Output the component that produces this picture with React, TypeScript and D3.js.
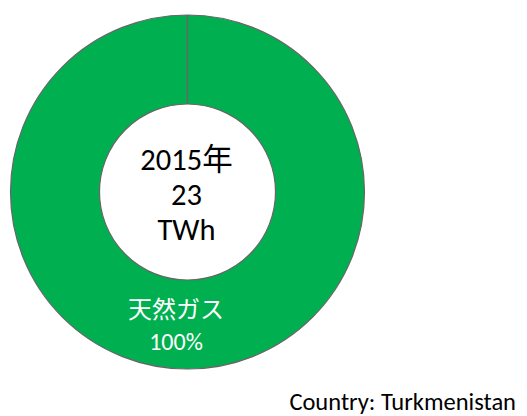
import React from "react";
import * as d3 from "d3";

const categories = ["天然ガス"];
const values = [100];
const percentLabels = ["100%"];
const centerLines = ["2015年", "23", "TWh"];
const countryLabel = "Country: Turkmenistan";
const colors = ["#00B050"];

const W = 527;
const H = 416;

export default function App() {
  const cx = 187.5;
  const cy = 192;
  const outerR = 177;
  const innerR = 88;
  const pie = d3.pie<number>().sort(null).value((d) => d)(values);
  const arc = d3.arc<d3.PieArcDatum<number>>().innerRadius(innerR).outerRadius(outerR);
  const font = "Calibri, Carlito, 'Open Sans', 'Noto Sans', 'Noto Sans CJK JP', sans-serif";
  return (
    <svg
      width={W}
      height={H}
      style={{ position: "absolute", left: 0, top: 0, background: "#fff" }}
      fontFamily={font}
    >
      <g transform={`translate(${cx},${cy})`}>
        {pie.map((p, i) => (
          <path key={i} d={arc(p) || ""} fill={colors[i]} stroke="#666" strokeWidth={1.2} />
        ))}
        {pie.map((p, i) => {
          const start = p.startAngle;
          const x1 = Math.sin(start) * innerR;
          const y1 = -Math.cos(start) * innerR;
          const x2 = Math.sin(start) * outerR;
          const y2 = -Math.cos(start) * outerR;
          return <line key={"s" + i} x1={x1} y1={y1} x2={x2} y2={y2} stroke="#666" strokeWidth={1.5} />;
        })}
        {centerLines.map((t, i) => (
          <text
            key={t}
            x={-1}
            y={(i - 1) * 35 + 13}
            textAnchor="middle"
            fontSize={30.5}
            fill="#000"
          >
            {t}
          </text>
        ))}
        {pie.map((p, i) => {
          const [lx, ly] = arc.centroid(p);
          return (
            <g key={"l" + i} transform={`translate(${lx - 11.5},${ly})`}>
              <text x={0} y={-6.5} textAnchor="middle" fontSize={24} fill="#fff">
                {categories[i]}
              </text>
              <text x={0} y={25.5} textAnchor="middle" fontSize={24} fill="#fff">
                {percentLabels[i]}
              </text>
            </g>
          );
        })}
      </g>
      <text x={516} y={410} textAnchor="end" fontSize={24.5} fill="#000">
        {countryLabel}
      </text>
    </svg>
  );
}
